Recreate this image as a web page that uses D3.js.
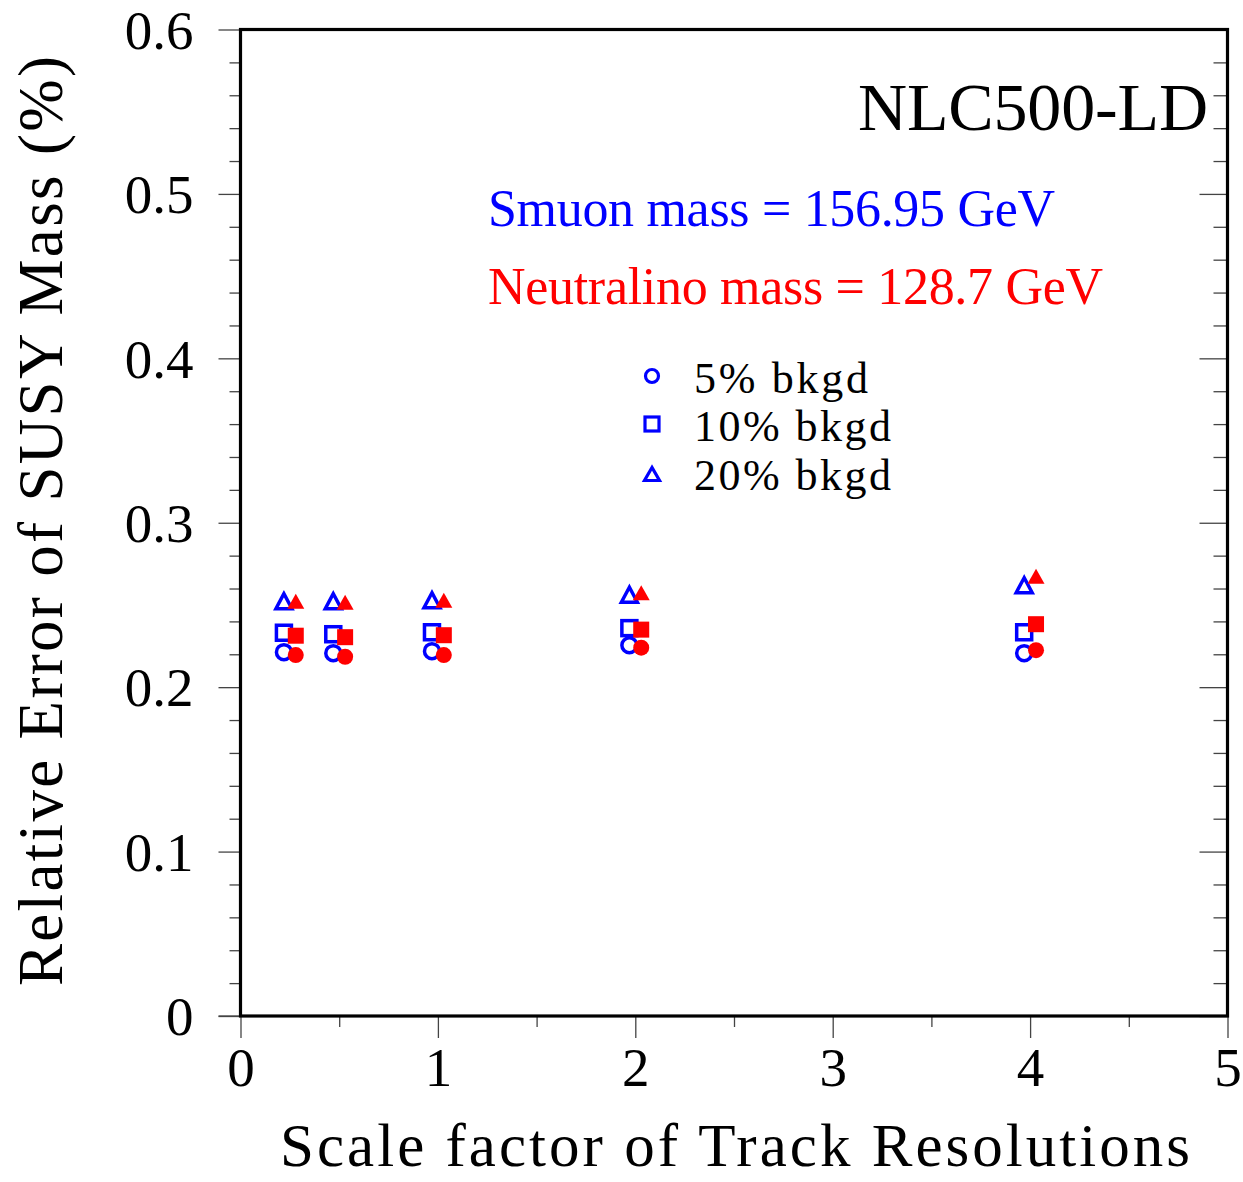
<!DOCTYPE html>
<html><head><meta charset="utf-8">
<script src="https://cdn.jsdelivr.net/npm/d3@7/dist/d3.min.js"></script>
<style>body{margin:0;background:#fff}svg{display:block}text{font-family:"Liberation Serif","Times New Roman",serif}</style>
</head><body>
<svg id="c" width="1243" height="1182"></svg>
<script>
// ---- data ----
const scaleFactors = [0.25, 0.5, 1, 2, 4];
const xSmuon = [0.22, 0.47, 0.97, 1.97, 3.97];       // plotted x (slightly offset left)
const xNeutralino = [0.28, 0.53, 1.03, 2.03, 4.03];  // plotted x (slightly offset right)
const smuon5 = [0.2213, 0.2207, 0.2219, 0.2255, 0.2207];
const smuon10 = [0.2331, 0.2322, 0.2334, 0.2359, 0.2334];
const smuon20 = [0.2529, 0.2529, 0.2535, 0.2568, 0.2626];
const neut5 = [0.2195, 0.2185, 0.2195, 0.2240, 0.2225];
const neut10 = [0.2313, 0.2304, 0.2316, 0.2350, 0.2383];
const neut20 = [0.2523, 0.2517, 0.2529, 0.2574, 0.2675];
const xTicks = [0, 1, 2, 3, 4, 5];
const yTicks = [0, 0.1, 0.2, 0.3, 0.4, 0.5, 0.6];
const legendLabels = ["5% bkgd", "10% bkgd", "20% bkgd"];

const svg = d3.select("#c");
const L = 240.5, R = 1227.5, T = 29.5, B = 1016;
const x = d3.scaleLinear().domain([0, 5]).range([L, R]);
const y = d3.scaleLinear().domain([0, 0.6]).range([B, T]);
const FONT = "Liberation Serif";

// minor ticks
const xMinor = d3.range(0, 5.001, 0.5).filter(v => Math.abs(v - Math.round(v)) > 1e-6);
const yMinor = d3.range(0, 0.6001, 0.02).filter(v => Math.abs(v*10 - Math.round(v*10)) > 1e-6);

function styleAxis(g) {
  g.select(".domain").remove();
  g.selectAll(".tick line").attr("stroke", "#444").attr("stroke-width", 1.3);
}

// left axis major
svg.append("g").attr("transform", `translate(${L},0)`)
  .call(d3.axisLeft(y).tickValues(yTicks).tickSize(22).tickPadding(25)
        .tickFormat(d => d === 0 ? "0" : d3.format(".1f")(d)))
  .call(styleAxis)
  .call(g => g.selectAll("text").attr("font-family", FONT).attr("font-size", 55).attr("fill", "#000").attr("dy", "0.34em"));
svg.append("g").attr("transform", `translate(${L},0)`)
  .call(d3.axisLeft(y).tickValues(yMinor).tickSize(11).tickFormat(""))
  .call(styleAxis);
// right axis (inner ticks)
svg.append("g").attr("transform", `translate(${R},0)`)
  .call(d3.axisLeft(y).tickValues(yTicks).tickSize(28).tickFormat(""))
  .call(styleAxis);
svg.append("g").attr("transform", `translate(${R},0)`)
  .call(d3.axisLeft(y).tickValues(yMinor).tickSize(14).tickFormat(""))
  .call(styleAxis);
// bottom axis
svg.append("g").attr("transform", `translate(0,${B})`)
  .call(d3.axisBottom(x).tickValues(xTicks).tickSize(22).tickPadding(9).tickFormat(d3.format("d")))
  .call(styleAxis)
  .call(g => g.selectAll("text").attr("font-family", FONT).attr("font-size", 55).attr("fill", "#000").attr("dy", "0.71em"));
svg.append("g").attr("transform", `translate(0,${B})`)
  .call(d3.axisBottom(x).tickValues(xMinor).tickSize(11).tickFormat(""))
  .call(styleAxis);
// tick at y=0 extends left
svg.append("line").attr("x1", L - 22).attr("x2", L).attr("y1", B).attr("y2", B).attr("stroke", "#444").attr("stroke-width", 1.3);

// frame
svg.append("rect").attr("x", L).attr("y", T).attr("width", R - L).attr("height", B - T)
  .attr("fill", "none").attr("stroke", "#000").attr("stroke-width", 3.2);

// axis titles
svg.append("text").attr("x", 280).attr("y", 1166).attr("text-anchor", "start")
  .attr("font-family", FONT).attr("font-size", 61).attr("textLength", 910).attr("lengthAdjust", "spacing")
  .text("Scale factor of Track Resolutions");
svg.append("text").attr("transform", "translate(62,986) rotate(-90)").attr("text-anchor", "start")
  .attr("font-family", FONT).attr("font-size", 63).attr("textLength", 930).attr("lengthAdjust", "spacing")
  .text("Relative Error of SUSY Mass (%)");

// annotations
svg.append("text").attr("x", 858).attr("y", 130).attr("text-anchor", "start")
  .attr("font-family", FONT).attr("font-size", 68).attr("textLength", 350).attr("lengthAdjust", "spacing").text("NLC500-LD");
svg.append("text").attr("x", 488).attr("y", 226).attr("fill", "#0000ff")
  .attr("font-family", FONT).attr("font-size", 52).attr("textLength", 567).attr("lengthAdjust", "spacing")
  .text("Smuon mass = 156.95 GeV");
svg.append("text").attr("x", 488).attr("y", 304).attr("fill", "#ff0000")
  .attr("font-family", FONT).attr("font-size", 52).attr("textLength", 615).attr("lengthAdjust", "spacing")
  .text("Neutralino mass = 128.7 GeV");

// marker helpers
function tri(cx, cy, w, h) {
  return `M${cx},${cy - h/2}L${cx - w/2},${cy + h/2}L${cx + w/2},${cy + h/2}Z`;
}
const BLUE = "#0000ff", RED = "#ff0000";

const sm = scaleFactors.map((s, i) => ({x: xSmuon[i], c: smuon5[i], q: smuon10[i], t: smuon20[i]}));
const ne = scaleFactors.map((s, i) => ({x: xNeutralino[i], c: neut5[i], q: neut10[i], t: neut20[i]}));

// smuon (blue, open)
svg.append("g").selectAll("circle").data(sm).join("circle")
  .attr("cx", d => x(d.x)).attr("cy", d => y(d.c)).attr("r", 7.5)
  .attr("fill", "none").attr("stroke", BLUE).attr("stroke-width", 3.5);
svg.append("g").selectAll("rect").data(sm).join("rect")
  .attr("x", d => x(d.x) - 7.5).attr("y", d => y(d.q) - 7.5).attr("width", 15).attr("height", 15)
  .attr("fill", "none").attr("stroke", BLUE).attr("stroke-width", 3.5);
svg.append("g").selectAll("path").data(sm).join("path")
  .attr("d", d => tri(x(d.x), y(d.t) + 1, 16, 15))
  .attr("fill", "none").attr("stroke", BLUE).attr("stroke-width", 3.5).attr("stroke-linejoin", "miter");

// neutralino (red, filled)
svg.append("g").selectAll("circle").data(ne).join("circle")
  .attr("cx", d => x(d.x)).attr("cy", d => y(d.c)).attr("r", 8).attr("fill", RED);
svg.append("g").selectAll("rect").data(ne).join("rect")
  .attr("x", d => x(d.x) - 8).attr("y", d => y(d.q) - 8).attr("width", 16).attr("height", 16).attr("fill", RED);
svg.append("g").selectAll("path").data(ne).join("path")
  .attr("d", d => tri(x(d.x), y(d.t), 17, 15)).attr("fill", RED);

// legend
const legY = [376, 424, 473];
const legW = [174, 197, 197];
const lg = svg.append("g");
lg.append("circle").attr("cx", 652).attr("cy", legY[0]).attr("r", 6.5)
  .attr("fill", "none").attr("stroke", BLUE).attr("stroke-width", 3.2);
lg.append("rect").attr("x", 652 - 7).attr("y", legY[1] - 7).attr("width", 14).attr("height", 14)
  .attr("fill", "none").attr("stroke", BLUE).attr("stroke-width", 3.2);
lg.append("path").attr("d", tri(652, legY[2] + 1, 15, 13))
  .attr("fill", "none").attr("stroke", BLUE).attr("stroke-width", 3.2);
lg.selectAll("text").data(legendLabels).join("text")
  .attr("x", 694).attr("y", (d, i) => legY[i] + 17)
  .attr("font-family", FONT).attr("font-size", 44)
  .attr("textLength", (d, i) => legW[i]).attr("lengthAdjust", "spacing").text(d => d);
</script>
</body></html>
